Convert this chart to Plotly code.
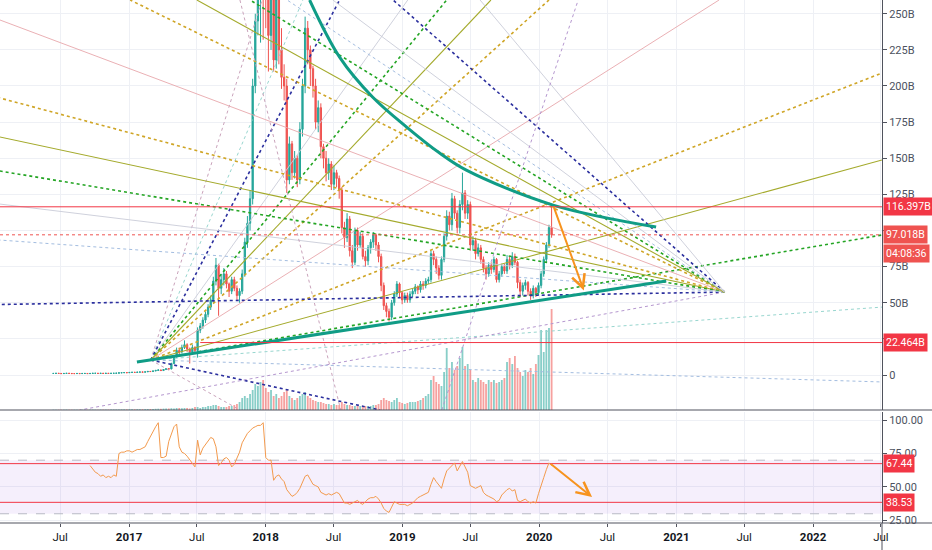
import pandas as pd
import plotly.graph_objects as go

# ---------------- weekly candles, market cap in billions
close = [
    1.1, 1.2, 1.1, 1.0, 1.1, 1.2, 1.1, 1.0, 1.0, 1.1,
    1.0, 1.1, 1.1, 1.0, 1.1, 1.2, 1.2, 1.1, 1.2, 1.1,
    1.2, 1.1, 1.2, 1.2, 1.3, 1.5, 1.6, 1.7, 1.6, 1.8,
    1.9, 1.8, 2.0, 2.1, 2.0, 2.2, 2.5, 2.4, 2.8, 3.2,
    3.5, 3.1, 3.8, 4.4, 4.2, 8.0, 12.5, 17, 16, 19,
    21, 18, 16, 19, 17, 31, 34, 38, 42, 47,
    52, 65, 76, 60, 66, 70, 63, 58, 66, 60,
    55, 58, 70, 92, 105, 122, 200, 245, 300, 360,
    330, 260, 235, 280, 218, 260, 225, 206, 200, 135,
    160, 140, 150, 135, 170, 200, 240, 225, 212, 200,
    175, 185, 158, 150, 140, 146, 132, 140, 136, 128,
    102, 95, 108, 86, 78, 100, 90, 96, 82, 79,
    88, 92, 97, 90, 82, 62, 48, 44, 40, 50,
    56, 63, 57, 52, 55, 52, 56, 58, 61, 59,
    63, 62, 65, 66, 84, 80, 74, 69, 80, 96,
    110, 104, 122, 112, 102, 118, 126, 112, 118, 90,
    93, 84, 88, 80, 74, 70, 76, 73, 80, 66,
    70, 75, 72, 80, 76, 82, 78, 64, 58, 62,
    64, 58, 55, 60, 57, 62, 70, 80, 90, 102,
    97,
]
high = [
    1.3, 1.3, 1.3, 1.2, 1.2, 1.3, 1.3, 1.2, 1.1, 1.2,
    1.2, 1.2, 1.2, 1.2, 1.2, 1.3, 1.3, 1.3, 1.3, 1.3,
    1.3, 1.3, 1.3, 1.3, 1.4, 1.6, 1.7, 1.8, 1.8, 1.9,
    2.0, 2.0, 2.1, 2.2, 2.2, 2.3, 2.6, 2.7, 3.0, 3.4,
    3.8, 3.7, 4.0, 4.6, 4.7, 8.5, 13.5, 19, 19, 21,
    24, 22, 19, 21, 20, 33, 36, 40, 44, 49,
    55, 68, 81, 77, 70, 74, 72, 64, 68, 68,
    62, 60, 73, 95, 110, 128, 205, 250, 340, 400,
    450, 350, 300, 290, 290, 275, 270, 240, 215, 205,
    165, 162, 155, 152, 175, 205, 248, 245, 228, 214,
    205, 190, 188, 160, 155, 150, 148, 145, 142, 138,
    130, 106, 112, 110, 90, 102, 102, 99, 98, 86,
    90, 94, 99, 98, 92, 84, 64, 50, 46, 52,
    58, 65, 64, 58, 57, 57, 58, 60, 63, 62,
    65, 65, 67, 68, 86, 86, 82, 76, 82, 98,
    114, 113, 126, 124, 114, 121, 140, 128, 121, 120,
    96, 95, 91, 90, 82, 76, 78, 78, 82, 81,
    72, 77, 77, 83, 82, 85, 84, 79, 66, 64,
    66, 65, 60, 62, 61, 64, 72, 82, 92, 104,
    116.4,
]
low = [
    1.0, 1.0, 1.0, 0.9, 0.9, 1.0, 1.0, 0.9, 0.9, 0.9,
    0.9, 0.9, 1.0, 0.9, 0.9, 1.0, 1.1, 1.0, 1.0, 1.0,
    1.0, 1.0, 1.0, 1.1, 1.1, 1.2, 1.4, 1.5, 1.5, 1.5,
    1.7, 1.7, 1.7, 1.9, 1.9, 1.9, 2.1, 2.2, 2.3, 2.7,
    3.0, 2.8, 3.0, 3.6, 3.7, 4.0, 7.5, 12, 14, 15,
    18, 16, 8, 15, 15, 12, 29, 32, 36, 40,
    45, 50, 62, 41, 56, 62, 60, 54, 56, 58,
    52, 50, 56, 68, 88, 100, 118, 195, 235, 230,
    232, 240, 210, 225, 210, 212, 215, 198, 190, 126,
    132, 135, 136, 130, 132, 165, 195, 215, 200, 192,
    170, 168, 150, 143, 134, 135, 128, 128, 130, 122,
    98, 88, 92, 82, 74, 76, 86, 88, 80, 75,
    76, 84, 88, 86, 78, 58, 45, 40, 37, 38,
    48, 54, 54, 49, 50, 50, 50, 54, 56, 56,
    57, 59, 60, 63, 64, 76, 70, 66, 66, 78,
    93, 100, 100, 108, 98, 98, 114, 108, 108, 86,
    86, 80, 82, 77, 71, 66, 68, 70, 71, 64,
    64, 68, 70, 70, 73, 74, 76, 60, 54, 55,
    59, 55, 52, 53, 54, 55, 60, 68, 78, 88,
    95,
]
volume = [
    0.3, 0.3, 0.3, 0.3, 0.3, 0.4, 0.3, 0.3, 0.3, 0.3,
    0.3, 0.3, 0.3, 0.3, 0.4, 0.4, 0.3, 0.3, 0.4, 0.4,
    0.4, 0.4, 0.4, 0.5, 0.5, 0.6, 0.6, 0.6, 0.6, 0.7,
    0.7, 0.7, 0.8, 0.8, 0.8, 0.9, 1.0, 1.0, 1.1, 1.2,
    1.3, 1.2, 1.4, 1.5, 1.5, 1.8, 1.6, 2, 2, 1.8,
    2, 2, 1.5, 2, 3, 3, 2, 3, 3, 4,
    4, 5, 5, 4, 3, 3, 3, 4, 4, 5,
    6, 8, 12, 14, 12, 16, 20, 26, 24, 28,
    30, 22, 18, 20, 14, 16, 12, 14, 18, 20,
    14, 12, 10, 12, 14, 16, 18, 14, 12, 10,
    9, 8, 8, 7, 6, 6, 5, 6, 5, 5,
    8, 6, 5, 5, 4, 4, 4, 4, 3, 4,
    4, 4, 5, 5, 6, 10, 12, 10, 9, 8,
    10, 12, 8, 7, 6, 7, 8, 8, 8, 9,
    10, 12, 14, 16, 30, 34, 28, 26, 24, 38,
    62, 42, 48, 40, 44, 52, 63, 44, 46, 40,
    30, 28, 32, 30, 28, 26, 30, 28, 30, 27,
    28, 30, 32, 48, 52, 46, 54, 42, 38, 34,
    40, 38, 42, 36, 46, 55, 80, 58, 80, 82,
    101,
]
# RSI(14), starts 14 weeks after the first candle
rsi = [
    66, 63, 61, 60, 58, 59, 57, 58, 57, 59,
    58, 75, 76, 76, 77, 77, 76, 77, 78, 78,
    79, 80, 84, 88, 92, 95, 98, 72, 72, 73,
    84, 90, 95, 97, 80, 76, 75, 73, 70, 67,
    65, 85, 74, 79, 82, 85, 87, 86, 80, 66,
    68, 71, 72, 70, 65, 67, 71, 76, 83, 87,
    90, 92, 94, 95, 96, 96, 98, 72, 70, 70,
    55, 58, 59, 56, 54, 48, 45, 43, 44, 46,
    49, 54, 58, 59, 55, 52, 51, 50, 46, 45,
    44, 45, 44, 45, 46, 45, 41, 38, 38, 37,
    38, 39, 40, 38, 37, 39, 41, 42, 42, 43,
    41, 38, 34, 32, 31, 35, 39, 38, 37, 37,
    37, 36, 37, 38, 40, 42, 43, 44, 45, 46,
    52, 57, 54, 51, 49, 56, 62, 64, 66, 68,
    62, 66, 69, 65, 61, 51, 50, 49, 50, 51,
    46, 44, 43, 42, 41, 39, 40, 44, 46, 48,
    49, 47, 48, 40, 39, 40, 41, 39, 38, 39,
    38, 45, 52, 57, 63, 68, 66,
]

# horizontal levels (B) and RSI levels
level_top, level_last, level_low = 116.397, 97.018, 22.464
level_low_start = '2017-07-10'
rsi_upper, rsi_lower = 67.44, 38.53
rsi_band = (30, 70)

# Gann fans: pivot and ray end points (date, value in B)
fan_a_origin = ('2017-02-28', 10.4)
fan_a_end_dates = ['2017-12-22', '2018-04-10', '2018-07-17', '2019-01-15', '2019-04-29',
                   '2019-08-25', '2020-01-27', '2021-04-25', '2022-07-04', '2022-07-04',
                   '2022-07-04', '2022-07-04', '2022-07-04', '2017-10-24', '2018-11-02']
fan_a_end_vals = [259.5, 259.5, 259.5, 259.5, 259.5, 259.5, 259.5, 259.5,
                  209, 148.8, 96.9, 47, -4.8, -24.2, -24.2]
fan_b_origin = ('2021-05-10', 57.4)
fan_b_end_dates = ['2018-12-07', '2016-01-22', '2016-08-23', '2016-01-22', '2016-01-22',
                   '2016-01-22', '2016-01-22', '2016-01-22', '2016-01-22', '2017-11-20',
                   '2017-01-04', '2017-07-01', '2018-02-27', '2018-06-29', '2019-07-27']
fan_b_end_vals = [259.5, 48.8, -24.2, 245.7, 191.7, 164.7, 141.2, 118.3, 93.4,
                  259.5, 259.5, 259.5, 259.5, 259.5, 259.5]
# two loose dotted rays
extra_dates = [('2017-10-24', '2018-07-20'), ('2019-04-16', '2020-04-14')]
extra_vals = [(259.5, -24.2), (-24.2, 259.5)]

# thick teal arc + support line
arc_dates = ['2018-04-28', '2018-07-17', '2018-10-13', '2019-01-12', '2019-04-10',
             '2019-06-19', '2020-02-07', '2020-11-08']
arc_vals = [259.5, 220, 192.4, 171.6, 153.6, 141.9, 117.6, 102.4]
support_dates = ['2017-01-22', '2020-12-05']
support_vals = [9, 65]

# orange arrows (tail -> tip)
arrow_main = (('2020-02-07', 117.6), ('2020-04-29', 58.5))
arrow_rsi = (('2020-01-28', 68), ('2020-05-21', 42.5))

x_ticks = ['2016-07-01', '2017-01-01', '2017-07-01', '2018-01-01', '2018-07-01',
           '2019-01-01', '2019-07-01', '2020-01-01', '2020-07-01', '2021-01-01',
           '2021-07-01', '2022-01-01', '2022-07-01']
x_labels = ['Jul', '<b>2017</b>', 'Jul', '<b>2018</b>', 'Jul', '<b>2019</b>', 'Jul',
            '<b>2020</b>', 'Jul', '<b>2021</b>', 'Jul', '<b>2022</b>', 'Jul']
price_ticks = [0, 25, 50, 75, 100, 125, 150, 175, 200, 225, 250]
price_labels = ['0', '', '50B', '75B', '', '125B', '150B', '175B', '200B', '225B', '250B']
rsi_ticks = [25, 50, 75, 100]
rsi_labels = ['25.00', '50.00', '75.00', '100.00']

X_START, X_END = '2016-01-22 12:00', '2022-07-04'
PRICE_RANGE = [-24.2, 259.5]
RSI_RANGE = [23.1, 106]
MAIN_BOTTOM = 1 - 410 / 523
RSI_TOP = 1 - 412 / 523

UP, DN = '#26a69a', '#ef5350'
UP_VOL, DN_VOL = 'rgba(38,166,154,0.55)', 'rgba(239,83,80,0.55)'
TEAL = '#109c86'
ORANGE = '#f7931e'
RED = '#f23645'
GRID = '#eef0f5'
AXIS = '#50535e'

STYLES = {
    'navy': dict(color='#2b2f9e', width=1.6, dash='dot'),
    'green': dict(color='#24a524', width=1.6, dash='dot'),
    'olive': dict(color='#a4aa2c', width=1.1),
    'gold': dict(color='#cfa526', width=1.6, dash='dot'),
    'pink': dict(color='#e8a7ab', width=0.9),
    'gray': dict(color='#c9ccd8', width=0.9),
    'lteal': dict(color='#98d6cf', width=1.0, dash='dot'),
    'lblue': dict(color='#a3bde0', width=1.0, dash='dot'),
    'purple': dict(color='#b597cf', width=1.0, dash='dot'),
    'mauve': dict(color='#caa3bb', width=1.0, dash='dot'),
}
fan_a_styles = ['mauve', 'lteal', 'navy', 'gray', 'green', 'olive', 'gold', 'pink',
                'gold', 'olive', 'green', 'lteal', 'lblue', 'mauve', 'navy']
fan_b_styles = ['navy', 'navy', 'purple', 'pink', 'gold', 'olive', 'green', 'gray', 'lblue',
                'green', 'gold', 'olive', 'lblue', 'gray', 'gray']
extra_styles = ['mauve', 'purple']

assert len(close) == len(high) == len(low) == len(volume)

weeks = pd.date_range('2016-06-13', periods=len(close), freq='7D')
opens = [close[0]] + close[:-1]
rsi_weeks = weeks[-len(rsi):]

fig = go.Figure()

# volume (base axis, sits below everything else)
vol_colors = [UP_VOL if c >= o else DN_VOL for o, c in zip(opens, close)]
fig.add_trace(go.Bar(x=weeks, y=volume, marker_color=vol_colors, marker_line_width=0,
                     xaxis='x', yaxis='y', hoverinfo='skip'))

# price
fig.add_trace(go.Candlestick(x=weeks, open=opens, high=high, low=low, close=close,
                             xaxis='x', yaxis='y2', whiskerwidth=0,
                             increasing=dict(line=dict(color=UP, width=1), fillcolor=UP),
                             decreasing=dict(line=dict(color=DN, width=1), fillcolor=DN)))

# fans
for origin, dates, vals, styles in [(fan_a_origin, fan_a_end_dates, fan_a_end_vals, fan_a_styles),
                                    (fan_b_origin, fan_b_end_dates, fan_b_end_vals, fan_b_styles)]:
    for d, v, s in zip(dates, vals, styles):
        fig.add_trace(go.Scatter(x=[origin[0], d], y=[origin[1], v], mode='lines',
                                 line=STYLES[s], xaxis='x', yaxis='y2', hoverinfo='skip'))
for d, v, s in zip(extra_dates, extra_vals, extra_styles):
    fig.add_trace(go.Scatter(x=list(d), y=list(v), mode='lines', line=STYLES[s],
                             xaxis='x', yaxis='y2', hoverinfo='skip'))

# teal arc and support
fig.add_trace(go.Scatter(x=arc_dates, y=arc_vals, mode='lines', line=dict(color=TEAL, width=3, shape='spline'),
                         xaxis='x', yaxis='y2', hoverinfo='skip'))
fig.add_trace(go.Scatter(x=support_dates, y=support_vals, mode='lines', line=dict(color=TEAL, width=3),
                         xaxis='x', yaxis='y2', hoverinfo='skip'))

# horizontal levels
fig.add_trace(go.Scatter(x=[X_START, X_END], y=[level_top] * 2, mode='lines',
                         line=dict(color=RED, width=1), xaxis='x', yaxis='y2', hoverinfo='skip'))
fig.add_trace(go.Scatter(x=[X_START, X_END], y=[level_last] * 2, mode='lines',
                         line=dict(color=DN, width=1, dash='dot'), xaxis='x', yaxis='y2', hoverinfo='skip'))
fig.add_trace(go.Scatter(x=[level_low_start, X_END], y=[level_low] * 2, mode='lines',
                         line=dict(color=RED, width=1), xaxis='x', yaxis='y2', hoverinfo='skip'))

# RSI pane
fig.add_trace(go.Scatter(x=[X_START, X_END], y=[rsi_band[0]] * 2, mode='lines',
                         line=dict(color='#b8bac4', width=1, dash='dash'), xaxis='x', yaxis='y3', hoverinfo='skip'))
fig.add_trace(go.Scatter(x=[X_START, X_END], y=[rsi_band[1]] * 2, mode='lines', fill='tonexty',
                         fillcolor='rgba(155,100,230,0.10)',
                         line=dict(color='#b8bac4', width=1, dash='dash'), xaxis='x', yaxis='y3', hoverinfo='skip'))
for lv in (rsi_upper, rsi_lower):
    fig.add_trace(go.Scatter(x=[X_START, X_END], y=[lv] * 2, mode='lines',
                             line=dict(color=RED, width=1), xaxis='x', yaxis='y3', hoverinfo='skip'))
fig.add_trace(go.Scatter(x=rsi_weeks, y=rsi, mode='lines', line=dict(color='#f39a4d', width=1),
                         xaxis='x', yaxis='y3', hoverinfo='skip'))

# arrows
for (tail, tip), yref in [(arrow_main, 'y2'), (arrow_rsi, 'y3')]:
    fig.add_annotation(x=tip[0], y=tip[1], ax=tail[0], ay=tail[1], xref='x', yref=yref,
                       axref='x', ayref=yref, showarrow=True, arrowhead=5, arrowsize=1.3,
                       arrowwidth=2, arrowcolor=ORANGE, text='')

# axis tags
tags = [(level_top, '116.397B', 'y2', RED), (level_last, '97.018B', 'y2', DN),
        (84.4, '04:08:36', 'y2', DN), (level_low, '22.464B', 'y2', RED),
        (rsi_upper, '67.44', 'y3', RED), (rsi_lower, '38.53', 'y3', RED)]
for y, txt, yref, col in tags:
    fig.add_annotation(xref='paper', x=1, xanchor='left', xshift=1, yref=yref, y=y, text=txt,
                       showarrow=False, bgcolor=col, borderpad=2,
                       font=dict(color='white', size=10.5, family='Roboto, sans-serif'))

# pane separators + the right scale border running to the page bottom
for yb in (MAIN_BOTTOM, 0):
    fig.add_shape(type='line', xref='paper', yref='paper', x0=0, x1=932 / 882, y0=yb, y1=yb,
                  line=dict(color=AXIS, width=1.2))
fig.add_shape(type='line', xref='paper', yref='paper', x0=1, x1=1, y0=-27 / 523, y1=0,
              line=dict(color=AXIS, width=1))

fig.update_layout(
    width=932, height=550,
    margin=dict(l=0, r=50, t=0, b=27),
    paper_bgcolor='white', plot_bgcolor='white',
    showlegend=False, bargap=0.3,
    font=dict(family='Roboto, sans-serif', size=11, color='#4c525e'),
    xaxis=dict(type='date', range=[X_START, X_END], anchor='y3', rangeslider=dict(visible=False),
               tickvals=x_ticks, ticktext=x_labels, showgrid=True, gridcolor=GRID,
               ticks='outside', ticklen=3, tickcolor=AXIS, showline=False,
               tickfont=dict(size=11.5, color='#131722')),
    yaxis=dict(domain=[MAIN_BOTTOM, 1], range=[0, 410], visible=False, fixedrange=True),
    yaxis2=dict(overlaying='y', side='right', range=PRICE_RANGE, tickvals=price_ticks,
                ticktext=price_labels, showgrid=True, gridcolor=GRID, zeroline=False,
                showline=True, linecolor=AXIS, ticks='outside', ticklen=4, tickcolor=AXIS),
    yaxis3=dict(domain=[0, RSI_TOP], anchor='x', side='right', range=RSI_RANGE,
                tickvals=rsi_ticks, ticktext=rsi_labels, showgrid=True, gridcolor=GRID,
                zeroline=False, showline=True, linecolor=AXIS, ticks='outside', ticklen=4,
                tickcolor=AXIS),
)

# the page body has a default 8px margin; drop it so the figure sits at the window corner
fig.write_html("out.html", config={'displayModeBar': False},
               post_script="document.body.style.margin='0';document.body.style.overflow='hidden';")
